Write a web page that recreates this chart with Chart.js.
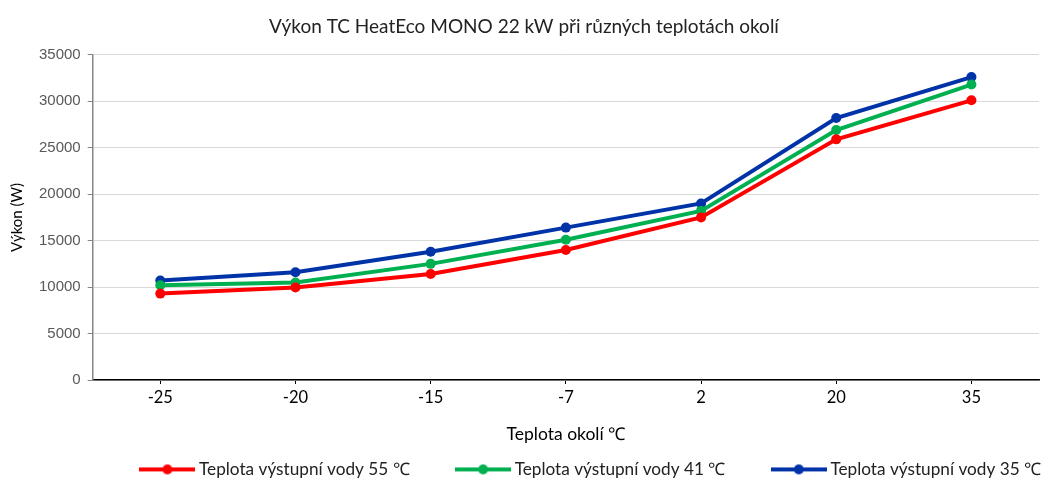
<!DOCTYPE html>
<html>
<head>
<meta charset="utf-8">
<script src="https://cdn.jsdelivr.net/npm/chart.js@4/dist/chart.umd.min.js"></script>
<style>
  html, body { margin: 0; padding: 0; background: #fff; }
  #wrap { width: 1044px; height: 482px; }
</style>
</head>
<body>
<div id="wrap"><canvas id="myChart"></canvas></div>
<script>
var teploty = ["-25", "-20", "-15", "-7", "2", "20", "35"];
var voda55 = [9300, 9950, 11400, 14000, 17500, 25900, 30100];
var voda41 = [10200, 10500, 12500, 15100, 18200, 26900, 31800];
var voda35 = [10700, 11600, 13800, 16400, 19000, 28200, 32600];
var yTicks = [0, 5000, 10000, 15000, 20000, 25000, 30000, 35000];

// legend marker: line with a dot in the middle
function legendMarker(color) {
    var c = document.createElement('canvas');
    c.width = 56; c.height = 12;
    var g = c.getContext('2d');
    g.strokeStyle = color;
    g.lineWidth = 4;
    g.beginPath(); g.moveTo(0, 6); g.lineTo(56, 6); g.stroke();
    g.fillStyle = color;
    g.beginPath(); g.arc(28, 6, 5, 0, Math.PI * 2); g.fill();
    return c;
}

var ctx = document.getElementById("myChart").getContext('2d');

var myChart = new Chart(ctx, {
    type: 'line',
    data: {
        labels: teploty,
        datasets: [{
            label: 'Teplota výstupní vody 55 ℃',
            data: voda55,
            borderColor: '#ff0000',
            backgroundColor: '#ff0000'
        }, {
            label: 'Teplota výstupní vody 41 ℃',
            data: voda41,
            borderColor: '#00b050',
            backgroundColor: '#00b050'
        }, {
            label: 'Teplota výstupní vody 35 ℃',
            data: voda35,
            borderColor: '#0033a8',
            backgroundColor: '#0033a8'
        }]
    },
    options: {
        responsive: true,
        maintainAspectRatio: false,
        animation: false,
        layout: { padding: { left: 4, right: 0, top: 0, bottom: -6 } },
        elements: {
            line: { borderWidth: 4, tension: 0, fill: false },
            point: { radius: 5, hoverRadius: 5, borderWidth: 0 }
        },
        plugins: {
            title: {
                display: true,
                text: 'Výkon TC HeatEco MONO 22 kW při různých teplotách okolí',
                color: '#222',
                font: { family: 'Lato', size: 19, weight: 'normal' },
                padding: { top: 15, bottom: 17 }
            },
            legend: {
                position: 'bottom',
                align: 'end',
                labels: {
                    usePointStyle: true,
                    pointStyleWidth: 46,
                    boxHeight: 12,
                    padding: 3,
                    color: '#222',
                    font: { family: 'Lato', size: 17.2 },
                    generateLabels: function (chart) {
                        var n = chart.data.datasets.length;
                        return chart.data.datasets.map(function (ds, i) {
                            // trailing gap between legend entries
                            var gap = i < n - 1 ? '\u2003\u2003\u2003\u0020\u0020' : '';
                            return {
                                text: ds.label + gap,
                                pointStyle: legendMarker(ds.borderColor),
                                fillStyle: ds.borderColor,
                                strokeStyle: ds.borderColor,
                                lineWidth: 0,
                                fontColor: '#222',
                                datasetIndex: i
                            };
                        });
                    }
                }
            },
            tooltip: { enabled: false }
        },
        scales: {
            x: {
                offset: true,
                border: { color: '#000', width: 1.5 },
                grid: { drawOnChartArea: false, drawTicks: true, tickLength: 4, color: '#000' },
                ticks: { color: '#000', padding: 4, font: { family: 'Lato', size: 16.5 } },
                title: {
                    display: true,
                    text: 'Teplota okolí ℃',
                    color: '#000',
                    font: { family: 'Lato', size: 17.5 },
                    padding: { top: 12, bottom: 13 }
                }
            },
            y: {
                min: 0,
                max: 35000,
                afterBuildTicks: function (scale) {
                    scale.ticks = yTicks.map(function (v) { return { value: v }; });
                },
                border: { color: '#868686', width: 1.5 },
                grid: { color: '#d9d9d9', lineWidth: 1, tickLength: 5, tickColor: '#868686' },
                ticks: {
                    color: '#595959',
                    padding: 7,
                    font: { family: 'Liberation Sans', size: 15 },
                    callback: function (v) { return v; }
                },
                title: {
                    display: true,
                    text: 'Výkon (W)',
                    color: '#000',
                    font: { family: 'Lato', size: 15 },
                    padding: { bottom: 6 }
                }
            }
        }
    }
});
</script>
</body>
</html>
